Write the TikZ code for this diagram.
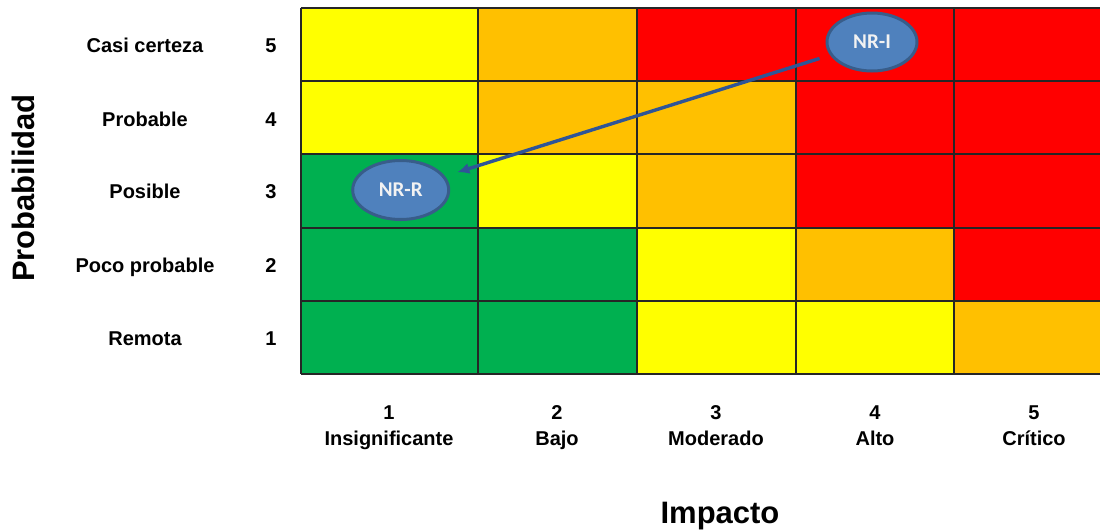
\documentclass[tikz,border=0pt]{standalone}
\usepackage{fontspec}
\setmainfont{Liberation Sans}
\newfontfamily\calib{Carlito}
\usetikzlibrary{shapes.geometric,arrows.meta}
\definecolor{cy}{RGB}{255,255,0}
\definecolor{co}{RGB}{255,192,0}
\definecolor{cr}{RGB}{255,0,0}
\definecolor{cg}{RGB}{0,176,80}
\definecolor{elfill}{RGB}{79,129,189}
\definecolor{elborder}{RGB}{56,93,138}
\definecolor{arrowc}{RGB}{47,85,151}
\tikzset{
  lbl/.style={font=\bfseries\fontsize{20}{20}\selectfont, inner sep=0pt, anchor=center,
    text height=0.716em, text depth=0pt},
  axis title/.style={font=\bfseries\fontsize{31}{31}\selectfont, inner sep=0pt,
    text height=0.716em, text depth=0pt},
  risk/.style={ellipse, draw=elborder, line width=3pt, fill=elfill, inner sep=0pt,
    text=white!95!black, font=\calib\bfseries\fontsize{21}{21}\selectfont},
  cellline/.style={draw=black!85, line width=1.8pt},
  conn/.style={draw=arrowc, line width=3.4pt, -{Latex[length=12pt,width=11pt]}}
}
\begin{document}
\begin{tikzpicture}[x=1pt,y=-1pt]
\useasboundingbox (0,0) rectangle (1100,531);
\clip (0,0) rectangle (1100,531);
% column edges and row edges
\def\xa{300.7}\def\xb{477.7}\def\xc{637}\def\xd{795.7}\def\xe{954.3}\def\xf{1113}
\def\ya{8}\def\yb{81.3}\def\yc{154.3}\def\yd{227.7}\def\ye{300.7}\def\yf{374}
% row 5
\fill[cy] (\xa,\ya) rectangle (\xb,\yb);
\fill[co] (\xb,\ya) rectangle (\xc,\yb);
\fill[cr] (\xc,\ya) rectangle (\xd,\yb);
\fill[cr] (\xd,\ya) rectangle (\xe,\yb);
\fill[cr] (\xe,\ya) rectangle (\xf,\yb);
% row 4
\fill[cy] (\xa,\yb) rectangle (\xb,\yc);
\fill[co] (\xb,\yb) rectangle (\xc,\yc);
\fill[co] (\xc,\yb) rectangle (\xd,\yc);
\fill[cr] (\xd,\yb) rectangle (\xe,\yc);
\fill[cr] (\xe,\yb) rectangle (\xf,\yc);
% row 3
\fill[cg] (\xa,\yc) rectangle (\xb,\yd);
\fill[cy] (\xb,\yc) rectangle (\xc,\yd);
\fill[co] (\xc,\yc) rectangle (\xd,\yd);
\fill[cr] (\xd,\yc) rectangle (\xe,\yd);
\fill[cr] (\xe,\yc) rectangle (\xf,\yd);
% row 2
\fill[cg] (\xa,\yd) rectangle (\xb,\ye);
\fill[cg] (\xb,\yd) rectangle (\xc,\ye);
\fill[cy] (\xc,\yd) rectangle (\xd,\ye);
\fill[co] (\xd,\yd) rectangle (\xe,\ye);
\fill[cr] (\xe,\yd) rectangle (\xf,\ye);
% row 1
\fill[cg] (\xa,\ye) rectangle (\xb,\yf);
\fill[cg] (\xb,\ye) rectangle (\xc,\yf);
\fill[cy] (\xc,\ye) rectangle (\xd,\yf);
\fill[cy] (\xd,\ye) rectangle (\xe,\yf);
\fill[co] (\xe,\ye) rectangle (\xf,\yf);
% grid lines
\foreach \x in {\xa,\xb,\xc,\xd,\xe,\xf} \path[cellline] (\x,\ya) -- (\x,\yf);
\foreach \y in {\ya,\yb,\yc,\yd,\ye,\yf} \path[cellline] (\xa,\y) -- (\xf,\y);
% row labels
\node[lbl] (p5) at (145,49) {Casi certeza};
\node[lbl] (p4) at (145,122.5) {Probable};
\node[lbl] (p3) at (145,195) {Posible};
\node[lbl] (p2) at (145,268.5) {Poco probable};
\node[lbl] (p1) at (145,342) {Remota};
\node[lbl] (n5) at (271,49) {5};
\node[lbl] (n4) at (271,122.5) {4};
\node[lbl] (n3) at (271,195) {3};
\node[lbl] (n2) at (271,268.5) {2};
\node[lbl] (n1) at (271,342) {1};
% column labels
\node[lbl] (c1n) at (389,415.5) {1};
\node[lbl] (c2n) at (557,415.5) {2};
\node[lbl] (c3n) at (716,415.5) {3};
\node[lbl] (c4n) at (875,415.5) {4};
\node[lbl] (c5n) at (1034,415.5) {5};
\node[lbl] (c1) at (389,442) {Insignificante};
\node[lbl] (c2) at (557,442) {Bajo};
\node[lbl] (c3) at (716,442) {Moderado};
\node[lbl] (c4) at (875,442) {Alto};
\node[lbl] (c5) at (1034,442) {Crítico};
% axis titles
\node[axis title, rotate=90] (prob) at (30.5,188) {Probabilidad};
\node[axis title] (imp) at (720,520) {Impacto};
% risk ellipses
\node[risk, minimum width=90pt, minimum height=58pt] (nri) at (872,42) {NR-I};
\node[risk, minimum width=96pt, minimum height=59pt] (nrr) at (400.7,190) {NR-R};
\path[conn, shorten <=11pt, shorten >=13pt] (nri) -- (nrr);
\end{tikzpicture}
\end{document}
